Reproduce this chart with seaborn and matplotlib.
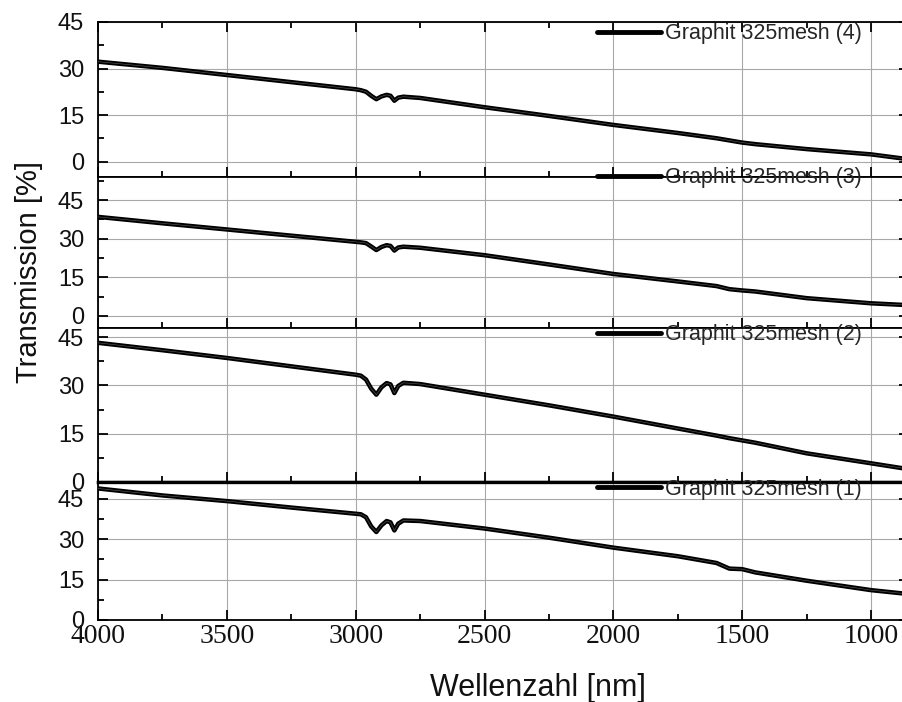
import matplotlib
matplotlib.use("Agg")
import matplotlib.pyplot as plt
from matplotlib.ticker import MultipleLocator
import seaborn as sns

# Wavenumber axis shared by all four spectra
wavenumber = [4000, 3750, 3500, 3250, 3000, 2980, 2960, 2940, 2920, 2900,
              2880, 2865, 2850, 2835, 2815, 2750, 2500, 2250, 2000, 1750,
              1600, 1550, 1500, 1450, 1250, 1000, 880]

# Transmission [%] of the four graphite samples
graphit_4 = [32.2, 30.2, 27.9, 25.6, 23.3, 23.0, 22.5, 21.2, 20.1, 21.0,
             21.5, 21.2, 19.6, 20.6, 20.9, 20.5, 17.5, 14.7, 11.8, 9.2,
             7.5, 6.8, 6.1, 5.6, 4.0, 2.3, 1.0]
graphit_3 = [38.5, 36.0, 33.6, 31.2, 28.8, 28.6, 28.3, 27.0, 25.6, 26.8,
             27.5, 27.2, 25.4, 26.6, 26.9, 26.5, 23.6, 20.0, 16.3, 13.4,
             11.6, 10.4, 9.9, 9.5, 6.9, 4.9, 4.3]
graphit_2 = [43.2, 40.9, 38.5, 35.9, 33.3, 33.0, 31.8, 29.0, 27.1, 29.4,
             30.7, 30.3, 27.6, 29.8, 30.8, 30.4, 27.1, 23.8, 20.3, 16.6,
             14.4, 13.6, 12.9, 12.2, 8.9, 5.8, 4.3]
graphit_1 = [48.9, 46.3, 44.2, 41.8, 39.5, 39.3, 38.2, 34.8, 32.7, 35.2,
             36.8, 36.3, 33.3, 35.8, 37.0, 36.8, 34.0, 30.6, 26.9, 23.7,
             21.2, 19.1, 18.9, 17.7, 14.6, 11.1, 9.9]

series = [graphit_4, graphit_3, graphit_2, graphit_1]
series_labels = ["Graphit 325mesh (4)", "Graphit 325mesh (3)",
                 "Graphit 325mesh (2)", "Graphit 325mesh (1)"]

sns.set_theme(style="ticks")
plt.rcParams["font.family"] = ["Liberation Sans", "DejaVu Sans"]

W, H = 902, 702
fig = plt.figure(figsize=(W / 100, H / 100), dpi=100)

left_px, right_px = 98, 909
panel_px = [(22, 177), (177, 328), (328, 482), (482, 620)]
panel_ylim = [(-5, 45), (-4.7, 54), (0, 47.8), (0, 51.3)]
legend_y_px = [34, 178, 335, 489]

axes = []
for i, (vals, lab) in enumerate(zip(series, series_labels)):
    top, bot = panel_px[i]
    ax = fig.add_axes([left_px / W, 1 - bot / H,
                       (right_px - left_px) / W, (bot - top) / H])
    axes.append(ax)
    ax.set_facecolor("white")
    ax.grid(True, which="major", color="#a8a8a8", lw=0.8, zorder=0)
    ax.set_axisbelow(True)

    sns.lineplot(x=wavenumber, y=vals, ax=ax, color="black", lw=3.2,
                 label=lab, sort=False, zorder=3)
    sns.lineplot(x=wavenumber, y=vals, ax=ax, color="#555555", lw=0.45,
                 sort=False, zorder=4)

    ax.set_xlim(4000, 853)
    ax.set_ylim(*panel_ylim[i])
    ax.xaxis.set_major_locator(MultipleLocator(500))
    ax.xaxis.set_minor_locator(MultipleLocator(250))
    ax.yaxis.set_major_locator(MultipleLocator(15))
    ax.yaxis.set_minor_locator(MultipleLocator(7.5))

    is_top = i == 0
    is_bottom = i == len(series) - 1
    ax.tick_params(axis="both", which="both", direction="in", color="black",
                   left=True, right=True, bottom=True, top=is_top)
    ax.tick_params(which="major", length=7.5, width=1.3)
    ax.tick_params(which="minor", length=4, width=1.3)
    ax.tick_params(axis="y", labelsize=17, pad=10, labelcolor="#111111")
    ax.tick_params(axis="x", labelbottom=is_bottom, labelsize=20, pad=3,
                   labelfontfamily="Liberation Serif", labelcolor="#111111")
    ax.set_xlabel("")
    ax.set_ylabel("")

    for side in ("left", "right", "top", "bottom"):
        ax.spines[side].set_color("black")
        ax.spines[side].set_linewidth(1.3)

    leg = ax.legend(loc="center left",
                    bbox_to_anchor=(597 / W, 1 - legend_y_px[i] / H),
                    bbox_transform=fig.transFigure, frameon=False,
                    fontsize=15.5, handlelength=2.95, handletextpad=0.2,
                    borderpad=0, borderaxespad=0)
    for hl in leg.get_lines():
        hl.set_linewidth(3.5)

# heavier separator between the two lower panels
axes[2].spines["bottom"].set_linewidth(2.4)
axes[3].spines["top"].set_linewidth(2.4)

fig.text(29 / W, 1 - 272 / H, "Transmission [%]", rotation=90,
         fontsize=21, ha="center", va="center", color="#111111")
fig.text(538 / W, 1 - 688 / H, "Wellenzahl [nm]", fontsize=22,
         ha="center", va="center", color="#111111")

fig.savefig("out.png", dpi=100)
